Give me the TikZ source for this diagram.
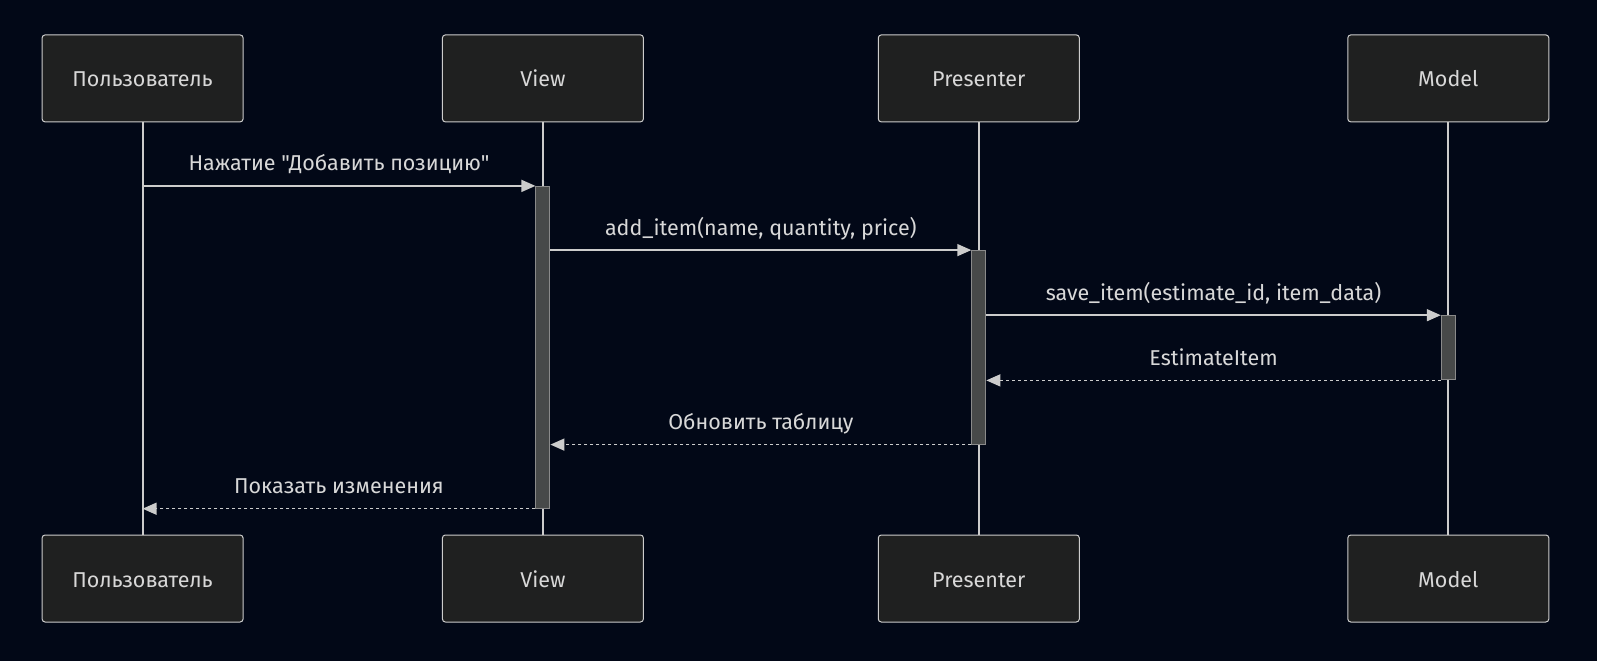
\documentclass[tikz,border=0pt]{standalone}
\usepackage{fontspec}
\setmainfont{Fira Sans}[Ligatures=TeXOff]
\usetikzlibrary{arrows.meta}
\definecolor{fond}{HTML}{020817}
\definecolor{boite}{HTML}{1F2020}
\definecolor{trait}{HTML}{CCCCCC}
\definecolor{texte}{HTML}{D8D8D8}
\definecolor{barre}{HTML}{474949}
\definecolor{bord}{HTML}{8A8A8A}
\begin{document}
\begin{tikzpicture}[x=1pt, y=-1pt,
  acteur/.style={draw=trait, fill=boite, line width=1pt, rounded corners=3pt,
    minimum width=201pt, minimum height=87pt, text height=17pt, text depth=0pt,
    text=texte, font=\fontsize{21.5}{25}\selectfont},
  activ/.style={draw=bord, fill=barre, line width=1pt, minimum width=14pt, inner sep=0pt},
  vie/.style={draw=trait, line width=1.8pt},
  msg/.style={draw=trait, line width=1.5pt, -{Triangle[length=14pt, width=12pt]}},
  retour/.style={msg, dash pattern=on 3pt off 3pt},
  lbl/.style={anchor=base, yshift=15pt, text=texte, font=\fontsize{21.5}{25}\selectfont}]
% Fond
\fill[fond] (0,0) rectangle (1597,661);
% Acteurs en haut
\node[acteur] (user) at (142.6,78.4) {Пользователь};
\node[acteur] (view) at (542.9,78.4) {View};
\node[acteur] (pres) at (978.8,78.4) {Presenter};
\node[acteur] (model) at (1448.3,78.4) {Model};
% Acteurs en bas
\node[acteur] (userB) at (142.6,578.5) {Пользователь};
\node[acteur] (viewB) at (542.9,578.5) {View};
\node[acteur] (presB) at (978.8,578.5) {Presenter};
\node[acteur] (modelB) at (1448.3,578.5) {Model};
% Lignes de vie
\draw[vie] (user.south) -- (userB.north);
\draw[vie] (view.south) -- (viewB.north);
\draw[vie] (pres.south) -- (presB.north);
\draw[vie] (model.south) -- (modelB.north);
% Activations
\node[activ, minimum height=321.8pt] (viewAct) at (542.9,347.3) {};
\node[activ, minimum height=193.5pt] (presAct) at (978.8,347.35) {};
\node[activ, minimum height=64.2pt] (modelAct) at (1448.3,347.8) {};
% Messages
\draw[msg] (user |- viewAct.north west) -- (viewAct.north west)
  node[lbl, midway] {Нажатие "Добавить позицию"};
\draw[msg] (viewAct.east |- presAct.north west) -- (presAct.north west)
  node[lbl, midway] {add\_item(name, quantity, price)};
\draw[msg] (presAct.east |- modelAct.north west) -- (modelAct.north west)
  node[lbl, midway] {save\_item(estimate\_id, item\_data)};
% Retours
\draw[retour] (modelAct.south west) -- (presAct.east |- modelAct.south west)
  node[lbl, midway] {EstimateItem};
\draw[retour] (presAct.south west) -- (viewAct.east |- presAct.south west)
  node[lbl, midway] {Обновить таблицу};
\draw[retour] (viewAct.south west) -- (user |- viewAct.south west)
  node[lbl, midway] {Показать изменения};
\end{tikzpicture}
\end{document}
